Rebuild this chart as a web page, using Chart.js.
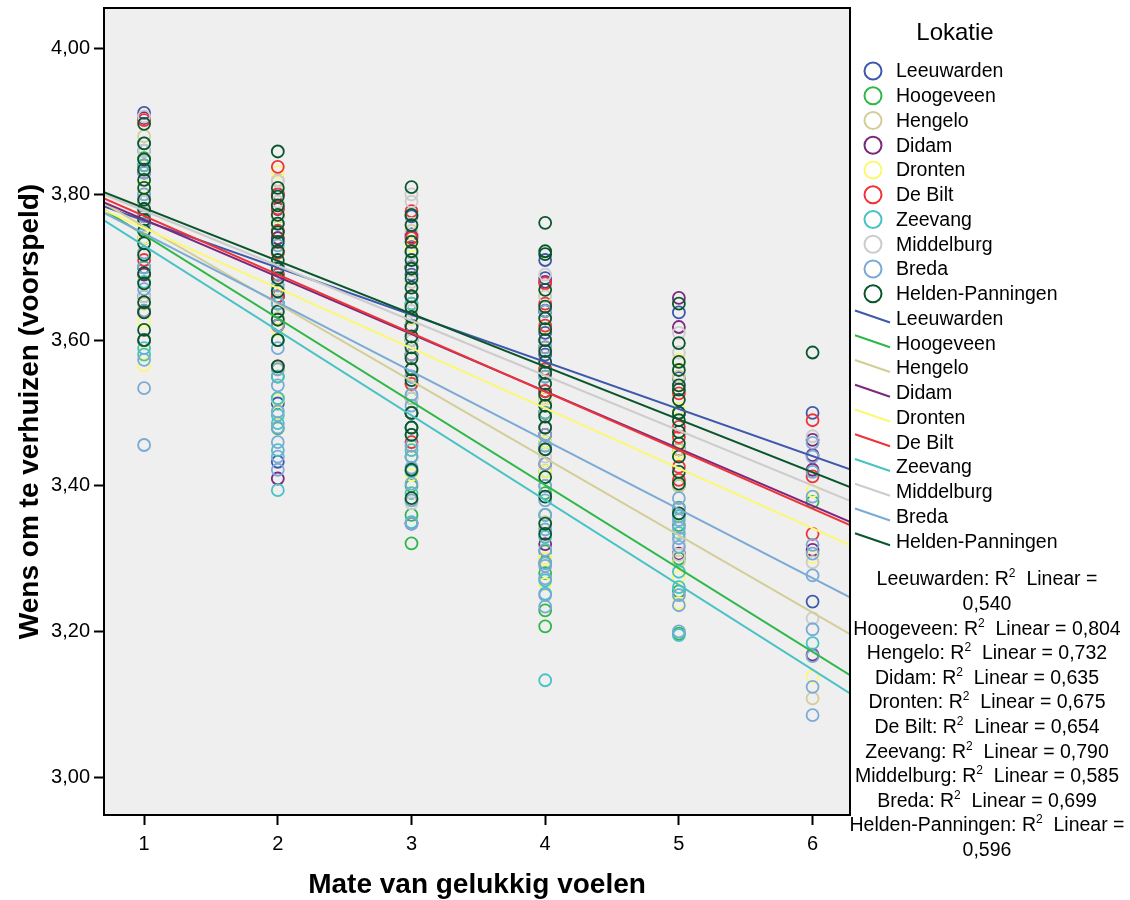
<!DOCTYPE html>
<html>
<head>
<meta charset="utf-8">
<script src="https://cdn.jsdelivr.net/npm/chart.js"></script>
<style>
  body { margin: 0; background: #fff; }
  #wrap { width: 1130px; height: 900px; }
</style>
</head>
<body>
<div id="wrap"><canvas id="scatterChart"></canvas></div>
<script>
const locations = ['Leeuwarden', 'Hoogeveen', 'Hengelo', 'Didam', 'Dronten', 'De Bilt',
  'Zeevang', 'Middelburg', 'Breda', 'Helden-Panningen'];
const colors = ['#3e58ac', '#2eb848', '#d3ce97', '#7c287d', '#fbf873', '#ef3338',
  '#48c2c5', '#cccccc', '#7aaad5', '#0a562c'];
const r2Values = ['0,540', '0,804', '0,732', '0,635', '0,675', '0,654', '0,790', '0,585', '0,699', '0,596'];
// fit lines: y = intercept + slope * x
const intercepts = [3.829, 3.859, 3.862, 3.844, 3.836, 3.851, 3.846, 3.853, 3.841, 3.854];
const slopes = [-0.0647, -0.1145, -0.106, -0.0786, -0.0824, -0.0804, -0.1164, -0.0754, -0.0946, -0.0726];
const xTicks = [1, 2, 3, 4, 5, 6];
const yTicks = [3.0, 3.2, 3.4, 3.6, 3.8, 4.0];

// predicted values per location, one list for each x = 1..6
const leeuwarden = [
  [3.912, 3.86, 3.79, 3.74, 3.70, 3.66],
  [3.80, 3.77, 3.74, 3.72, 3.69, 3.66, 3.62, 3.513, 3.433],
  [3.77, 3.745, 3.72, 3.69, 3.66, 3.63, 3.60, 3.55, 3.50],
  [3.710, 3.685, 3.64, 3.61, 3.58, 3.555, 3.53, 3.50, 3.47],
  [3.638, 3.548, 3.50, 3.45],
  [3.500, 3.241]
];
const hoogeveen = [
  [3.85, 3.78, 3.70, 3.64, 3.60],
  [3.75, 3.70, 3.65, 3.60, 3.550, 3.52, 3.479],
  [3.70, 3.65, 3.60, 3.56, 3.52, 3.48, 3.44, 3.40, 3.36, 3.321],
  [3.60, 3.55, 3.50, 3.46, 3.42, 3.39, 3.36, 3.31, 3.28, 3.229, 3.207],
  [3.50, 3.45, 3.40, 3.37, 3.346, 3.30, 3.255, 3.197],
  [3.378]
];
const hengelo = [
  [3.88, 3.80, 3.72, 3.65, 3.60],
  [3.82, 3.72, 3.63, 3.56, 3.50],
  [3.75, 3.70, 3.65, 3.60, 3.55, 3.50, 3.46, 3.42, 3.38],
  [3.66, 3.60, 3.55, 3.50, 3.45, 3.40, 3.35, 3.33, 3.30],
  [3.55, 3.50, 3.45, 3.40, 3.36, 3.296, 3.25],
  [3.108]
];
const didam = [
  [3.905, 3.83, 3.76, 3.69],
  [3.78, 3.74, 3.70, 3.66, 3.62, 3.410],
  [3.742, 3.70, 3.66, 3.62, 3.58, 3.54, 3.50, 3.348],
  [3.68, 3.64, 3.60, 3.56, 3.52, 3.48, 3.45, 3.32],
  [3.658, 3.618, 3.50, 3.307],
  [3.463, 3.442, 3.422, 3.312, 3.168]
];
const dronten = [
  [3.81, 3.74, 3.68, 3.625, 3.582, 3.565],
  [3.831, 3.77, 3.72, 3.67, 3.614, 3.56, 3.518, 3.50],
  [3.73, 3.68, 3.63, 3.58, 3.54, 3.50, 3.45, 3.415, 3.39],
  [3.66, 3.62, 3.56, 3.52, 3.46, 3.42, 3.36, 3.30, 3.265],
  [3.573, 3.506, 3.445, 3.275, 3.239],
  [3.393, 3.302, 3.138]
];
const deBilt = [
  [3.902, 3.84, 3.77, 3.71, 3.64, 3.60],
  [3.838, 3.80, 3.781, 3.75, 3.72, 3.69, 3.66, 3.62, 3.564],
  [3.777, 3.74, 3.70, 3.66, 3.62, 3.58, 3.54, 3.50, 3.46],
  [3.678, 3.65, 3.62, 3.59, 3.56, 3.53, 3.50, 3.47, 3.43, 3.294],
  [3.527, 3.481, 3.467, 3.426, 3.408],
  [3.490, 3.413, 3.334]
];
const zeevang = [
  [3.84, 3.76, 3.68, 3.589, 3.58],
  [3.70, 3.65, 3.60, 3.55, 3.52, 3.497, 3.486, 3.449, 3.394],
  [3.65, 3.60, 3.55, 3.50, 3.47, 3.449, 3.42, 3.39, 3.35],
  [3.55, 3.50, 3.45, 3.40, 3.36, 3.33, 3.294, 3.27, 3.252, 3.133],
  [3.358, 3.335, 3.282, 3.261, 3.195],
  [3.184]
];
const middelburg = [
  [3.907, 3.86, 3.79, 3.72, 3.66],
  [3.818, 3.79, 3.76, 3.73, 3.70, 3.67, 3.64],
  [3.800, 3.79, 3.76, 3.72, 3.68, 3.64, 3.60, 3.56, 3.52, 3.376],
  [3.690, 3.66, 3.63, 3.60, 3.57, 3.54, 3.51, 3.48, 3.44, 3.40],
  [3.610, 3.583, 3.321, 3.305],
  [3.468, 3.295, 3.218]
];
const breda = [
  [3.87, 3.83, 3.80, 3.77, 3.75, 3.72, 3.70, 3.67, 3.64, 3.60, 3.573, 3.534, 3.456],
  [3.76, 3.73, 3.70, 3.675, 3.651, 3.62, 3.589, 3.56, 3.538, 3.502, 3.48, 3.46, 3.44, 3.422],
  [3.70, 3.66, 3.62, 3.58, 3.55, 3.525, 3.51, 3.48, 3.455, 3.44, 3.425, 3.403, 3.38, 3.348],
  [3.64, 3.59, 3.55, 3.51, 3.47, 3.455, 3.43, 3.40, 3.38, 3.36, 3.34, 3.312, 3.29, 3.273, 3.25, 3.234],
  [3.50, 3.383, 3.369, 3.353, 3.342, 3.328, 3.316, 3.250, 3.236, 3.200],
  [3.459, 3.440, 3.419, 3.385, 3.319, 3.307, 3.277, 3.203, 3.166, 3.124, 3.085]
];
const heldenPanningen = [
  [3.897, 3.870, 3.848, 3.834, 3.820, 3.809, 3.793, 3.78, 3.765, 3.75, 3.733, 3.717, 3.692, 3.678, 3.652, 3.638, 3.614, 3.600],
  [3.859, 3.809, 3.797, 3.785, 3.772, 3.76, 3.748, 3.735, 3.722, 3.71, 3.698, 3.685, 3.667, 3.639, 3.628, 3.600, 3.564],
  [3.810, 3.772, 3.758, 3.735, 3.722, 3.71, 3.698, 3.685, 3.672, 3.66, 3.645, 3.632, 3.618, 3.605, 3.59, 3.575, 3.56, 3.545, 3.500, 3.48, 3.47, 3.422, 3.383],
  [3.761, 3.722, 3.718, 3.669, 3.646, 3.63, 3.615, 3.60, 3.585, 3.57, 3.555, 3.54, 3.525, 3.51, 3.495, 3.48, 3.450, 3.412, 3.385, 3.348, 3.334],
  [3.650, 3.596, 3.570, 3.559, 3.538, 3.532, 3.518, 3.500, 3.490, 3.474, 3.458, 3.440, 3.419, 3.403, 3.362],
  [3.583]
];
const pointSets = [leeuwarden, hoogeveen, hengelo, didam, dronten, deBilt, zeevang, middelburg, breda, heldenPanningen];

const xMin = 0.70, xMax = 6.28;
const yMin = 2.948, yMax = 4.056;
const FONT = '"Liberation Sans", Arial, sans-serif';

const datasets = [];
pointSets.forEach((set, i) => {
  const pts = [];
  set.forEach((vals, k) => vals.forEach(v => pts.push({x: xTicks[k], y: v})));
  datasets.push({
    type: 'scatter',
    label: locations[i],
    data: pts,
    pointRadius: 6,
    pointBorderWidth: 1.8,
    borderColor: colors[i],
    backgroundColor: 'rgba(0,0,0,0)',
    order: 100 - i
  });
});
locations.forEach((name, i) => {
  datasets.push({
    type: 'line',
    label: name + ' fit',
    data: [xMin, xMax].map(x => ({x: x, y: intercepts[i] + slopes[i] * x})),
    borderColor: colors[i],
    borderWidth: 2,
    pointRadius: 0,
    fill: false,
    order: 50 - i
  });
});

const plotFrame = {
  id: 'plotFrame',
  beforeDraw(chart) {
    const {ctx, chartArea: a} = chart;
    ctx.save();
    ctx.fillStyle = '#fff';
    ctx.fillRect(0, 0, chart.width, chart.height);
    ctx.fillStyle = '#efefef';
    ctx.fillRect(a.left, a.top, a.right - a.left, a.bottom - a.top);
    ctx.restore();
  },
  afterDraw(chart) {
    const {ctx, chartArea: a} = chart;
    ctx.save();
    ctx.strokeStyle = '#000';
    ctx.lineWidth = 2;
    ctx.strokeRect(a.left, a.top, a.right - a.left, a.bottom - a.top);
    ctx.restore();
  }
};

const sideLegend = {
  id: 'sideLegend',
  afterDraw(chart) {
    const ctx = chart.ctx;
    ctx.save();
    ctx.fillStyle = '#000';
    ctx.textBaseline = 'middle';
    ctx.textAlign = 'center';
    ctx.font = '24px ' + FONT;
    ctx.fillText('Lokatie', 955, 33);

    ctx.font = '19.5px ' + FONT;
    ctx.textAlign = 'left';
    ctx.lineWidth = 2;
    locations.forEach((name, i) => {
      const y = 71 + i * 24.75;
      ctx.strokeStyle = colors[i];
      ctx.beginPath();
      ctx.arc(873, y, 8.5, 0, Math.PI * 2);
      ctx.stroke();
      ctx.fillText(name, 896, y + 1);

      const y2 = 71 + (i + 10) * 24.75;
      ctx.beginPath();
      ctx.moveTo(855, y2 - 8);
      ctx.lineTo(890, y2 + 4);
      ctx.stroke();
      ctx.fillText(name, 896, y2 + 1);
    });

    // R2 notes, the long ones wrap
    const wrapped = ['Leeuwarden', 'Helden-Panningen'];
    const rows = [];
    locations.forEach((name, i) => {
      if (wrapped.includes(name)) {
        rows.push([name + ': R', '2', '  Linear =']);
        rows.push([r2Values[i]]);
      } else {
        rows.push([name + ': R', '2', '  Linear = ' + r2Values[i]]);
      }
    });
    const big = '19.5px ' + FONT, small = '12px ' + FONT;
    rows.forEach((parts, r) => {
      const y = 580 + r * 24.6;
      const fonts = [big, small, big];
      const widths = parts.map((p, j) => { ctx.font = fonts[j]; return ctx.measureText(p).width; });
      let x = 987 - widths.reduce((s, w) => s + w, 0) / 2;
      parts.forEach((p, j) => {
        ctx.font = fonts[j];
        ctx.fillText(p, x, j === 1 ? y - 6 : y);
        x += widths[j];
      });
    });
    ctx.restore();
  }
};

const fmt = v => v.toFixed(2).replace('.', ',');
const noPad = s => { s.paddingTop = 0; s.paddingBottom = 0; s.paddingLeft = 0; s.paddingRight = 0; };

new Chart(document.getElementById('scatterChart'), {
  type: 'scatter',
  data: { datasets: datasets },
  options: {
    responsive: true,
    maintainAspectRatio: false,
    animation: false,
    layout: { padding: { left: 0, top: 8, right: 280, bottom: 0 } },
    plugins: { legend: { display: false }, tooltip: { enabled: false } },
    scales: {
      x: {
        type: 'linear',
        min: xMin,
        max: xMax,
        afterBuildTicks: s => { s.ticks = xTicks.map(v => ({value: v})); },
        afterFit: s => { s.height = 85; noPad(s); },
        grid: { drawOnChartArea: false, color: '#000', tickLength: 10, tickWidth: 2 },
        border: { color: '#000', width: 2 },
        ticks: { color: '#000', padding: 7, font: { family: FONT, size: 20 }, callback: v => String(v) },
        title: { display: true, text: 'Mate van gelukkig voelen', color: '#000',
          font: { family: FONT, size: 28, weight: 'bold' }, padding: { top: 0, bottom: -2 } }
      },
      y: {
        type: 'linear',
        min: yMin,
        max: yMax,
        afterBuildTicks: s => { s.ticks = yTicks.map(v => ({value: v})); },
        afterFit: s => { s.width = 104; noPad(s); },
        grid: { drawOnChartArea: false, color: '#000', tickLength: 10, tickWidth: 2 },
        border: { color: '#000', width: 2 },
        ticks: { color: '#000', padding: 4, font: { family: FONT, size: 20 }, callback: v => fmt(v) },
        title: { display: true, text: 'Wens om te verhuizen (voorspeld)', color: '#000',
          font: { family: FONT, size: 28, weight: 'bold' }, padding: { top: 13, bottom: 0 } }
      }
    }
  },
  plugins: [plotFrame, sideLegend]
});
</script>
</body>
</html>
